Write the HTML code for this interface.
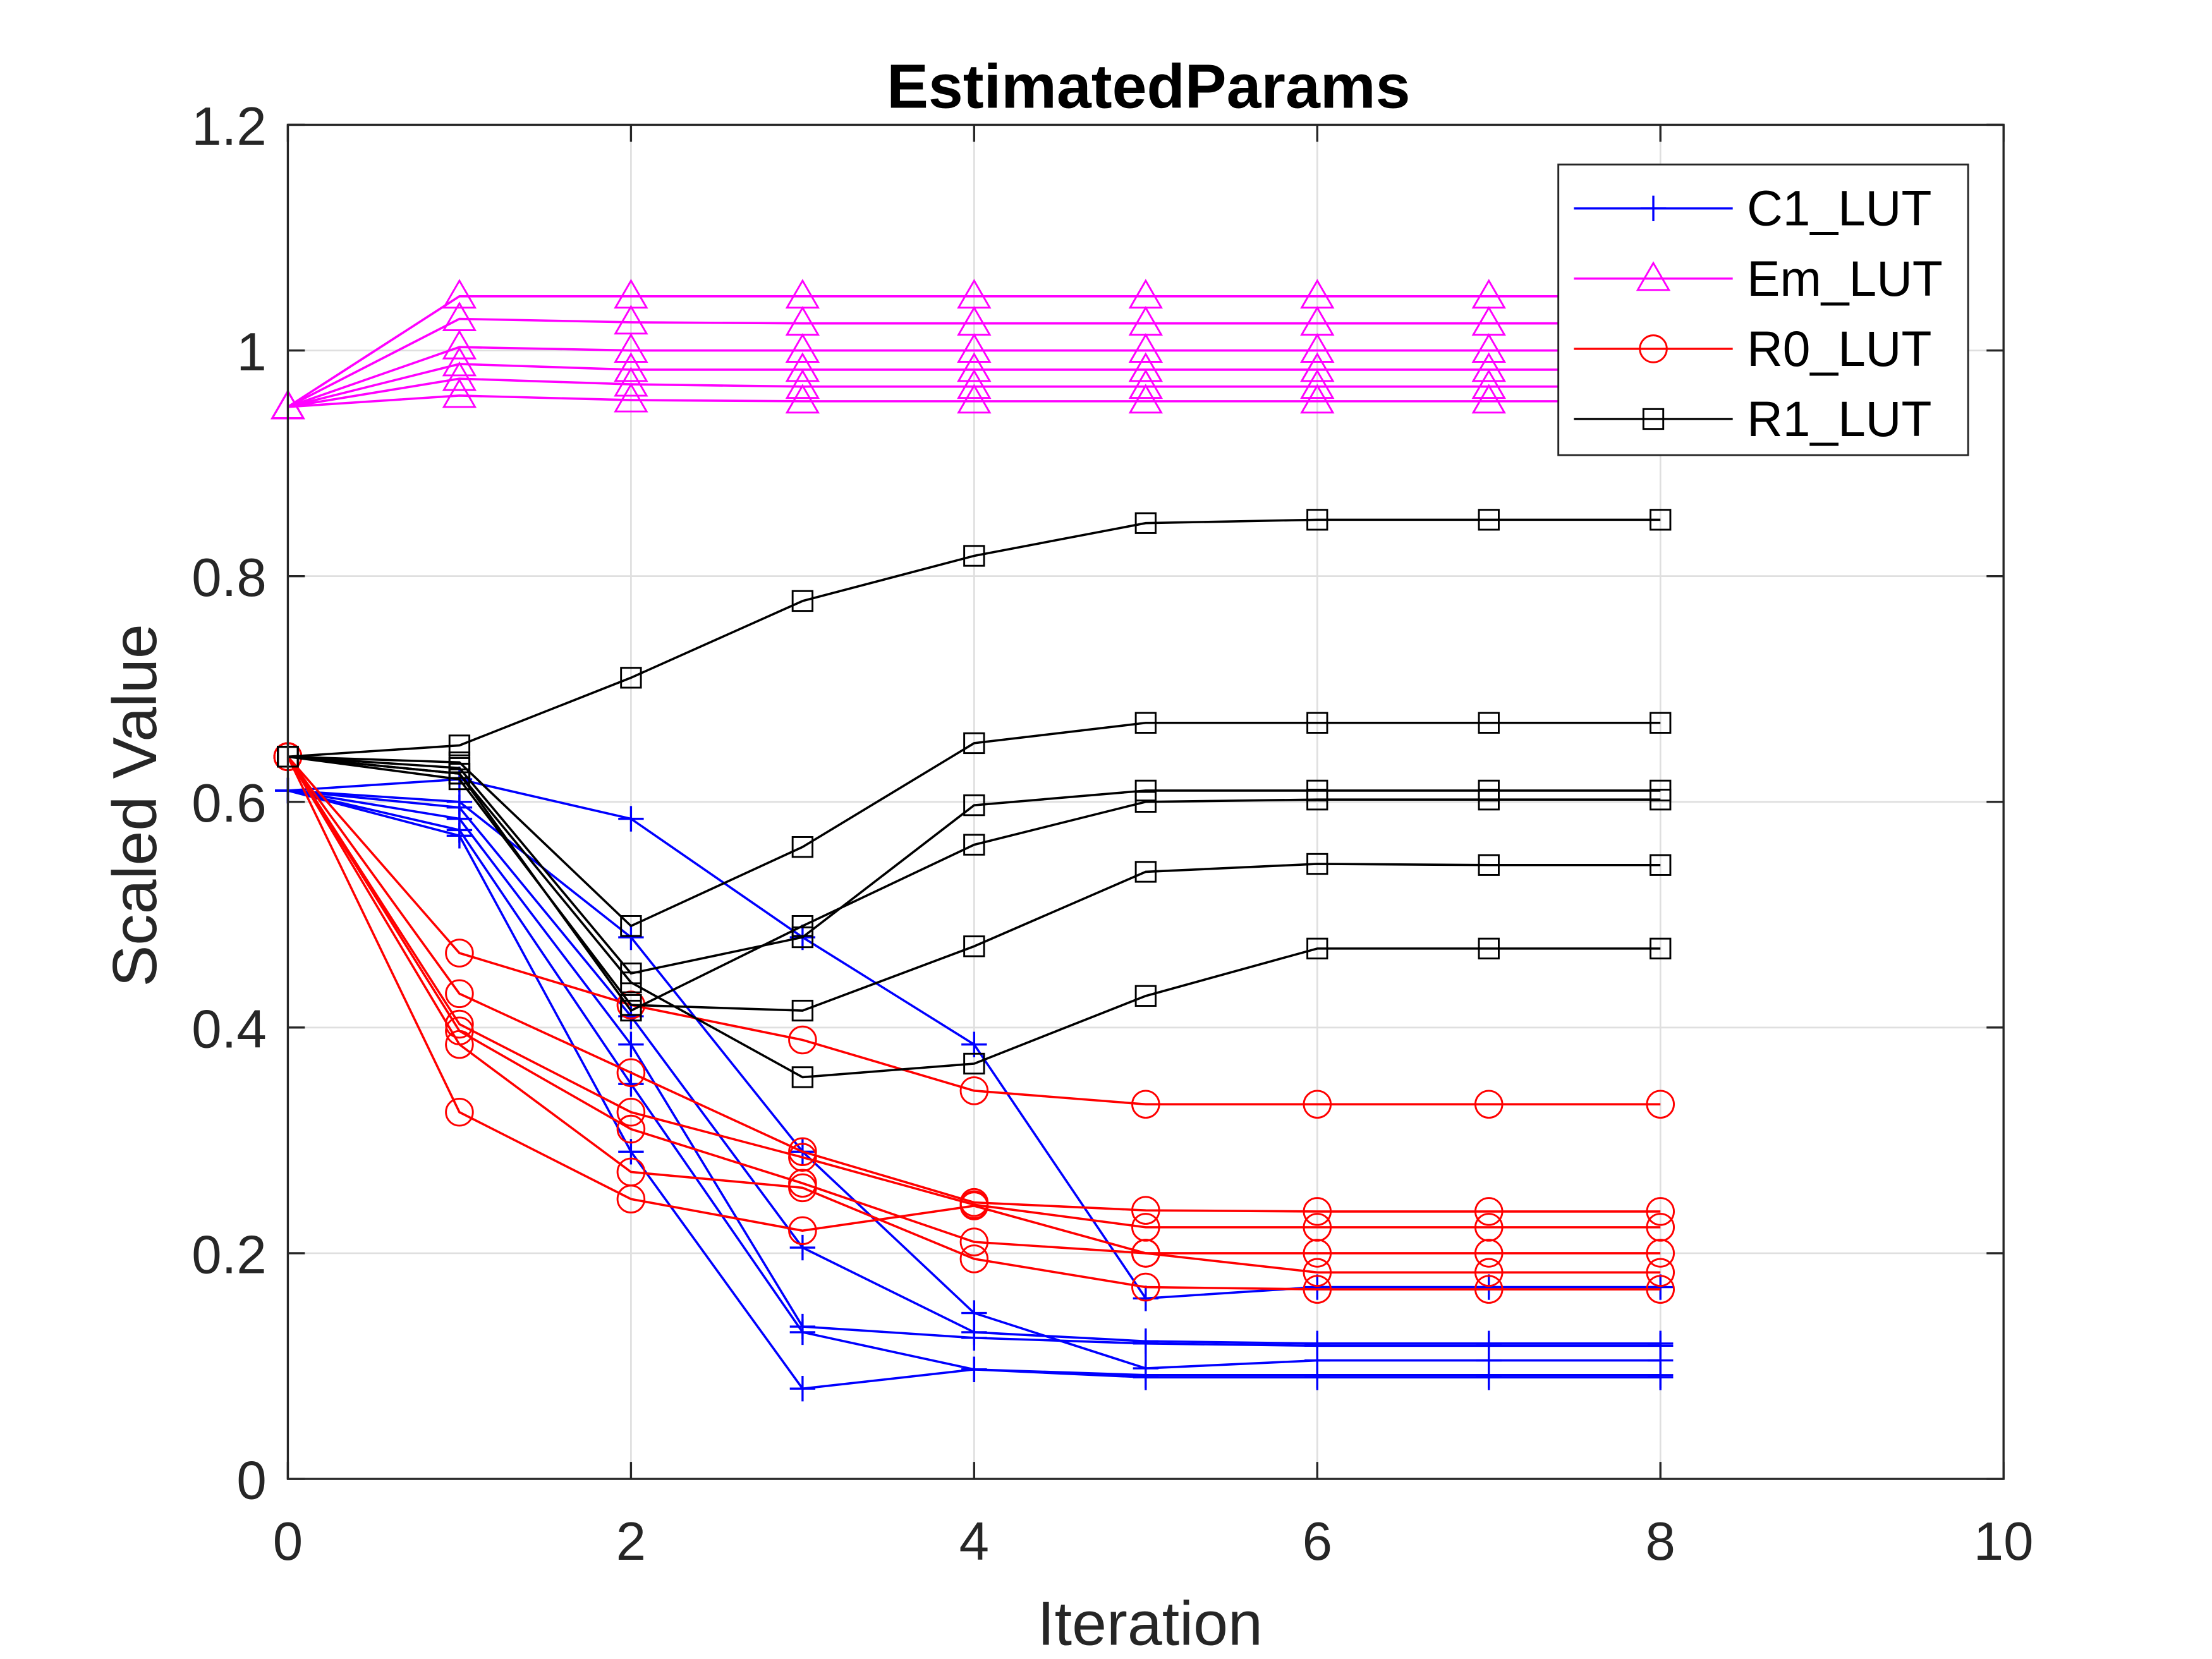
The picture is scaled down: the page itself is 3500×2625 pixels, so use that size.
<!DOCTYPE html>
<html><head><meta charset="utf-8"><style>
html,body{margin:0;padding:0;background:#fff}
svg{display:block}
text{font-family:"Liberation Sans",Arial,sans-serif;fill:#262626}
</style></head><body>
<svg id="chart" width="3500" height="2625" viewBox="0 0 1560 1170" xmlns="http://www.w3.org/2000/svg">
<rect width="1560" height="1170" fill="#fff"/>
<g id="grid"></g>
<g id="series"></g>
<g id="axes"></g>
<text x="810" y="76" font-size="44" font-weight="bold" text-anchor="middle" style="fill:#000">EstimatedParams</text>
<text x="811" y="1160" font-size="44" text-anchor="middle">Iteration</text>
<text transform="translate(110,568) rotate(-90)" font-size="44" text-anchor="middle">Scaled Value</text>
<g id="legend"></g>
</svg>
<script>
const iters=[0,1,2,3,4,5,6,7,8];
const xTicks=[0,2,4,6,8,10];
const yTicks=[0,0.2,0.4,0.6,0.8,1,1.2];
const yTickLabels=["0","0.2","0.4","0.6","0.8","1","1.2"];
const seriesNames=["C1_LUT","Em_LUT","R0_LUT","R1_LUT"];
const c1=[
[0.61,0.62,0.585,0.48,0.385,0.16,0.17,0.17,0.17],
[0.61,0.60,0.48,0.29,0.147,0.098,0.105,0.105,0.105],
[0.61,0.595,0.41,0.205,0.13,0.122,0.12,0.12,0.12],
[0.61,0.585,0.385,0.135,0.125,0.12,0.118,0.118,0.118],
[0.61,0.575,0.35,0.13,0.097,0.09,0.09,0.09,0.09],
[0.61,0.57,0.29,0.08,0.097,0.092,0.092,0.092,0.092]];
const em=[
[0.95,1.048,1.048,1.048,1.048,1.048,1.048,1.048,1.048],
[0.95,1.028,1.025,1.024,1.024,1.024,1.024,1.024,1.024],
[0.95,1.003,1.0,1.0,1.0,1.0,1.0,1.0,1.0],
[0.95,0.988,0.983,0.983,0.983,0.983,0.983,0.983,0.983],
[0.95,0.975,0.97,0.968,0.968,0.968,0.968,0.968,0.968],
[0.95,0.96,0.956,0.955,0.955,0.955,0.955,0.955,0.955]];
const r0=[
[0.64,0.466,0.42,0.389,0.344,0.332,0.332,0.332,0.332],
[0.64,0.43,0.36,0.29,0.245,0.238,0.237,0.237,0.237],
[0.64,0.403,0.325,0.285,0.243,0.223,0.223,0.223,0.223],
[0.64,0.397,0.31,0.262,0.21,0.2,0.2,0.2,0.2],
[0.64,0.385,0.272,0.258,0.195,0.17,0.168,0.168,0.168],
[0.64,0.325,0.248,0.22,0.242,0.2,0.183,0.183,0.183]];
const r1=[
[0.64,0.65,0.71,0.778,0.818,0.847,0.85,0.85,0.85],
[0.64,0.635,0.49,0.56,0.652,0.67,0.67,0.67,0.67],
[0.64,0.63,0.448,0.48,0.597,0.61,0.61,0.61,0.61],
[0.64,0.625,0.415,0.49,0.562,0.6,0.602,0.602,0.602],
[0.64,0.62,0.42,0.415,0.472,0.538,0.545,0.544,0.544],
[0.64,0.625,0.44,0.356,0.368,0.428,0.47,0.47,0.47]];

const NS="http://www.w3.org/2000/svg";
const X0=203,X1=1413,Y0=1043,Y1=88;
const sx=v=>X0+(v-0)/(10-0)*(X1-X0);
const sy=v=>Y0-(v-0)/(1.2-0)*(Y0-Y1);
function mk(tag,attrs,parent){const e=document.createElementNS(NS,tag);for(const k in attrs)e.setAttribute(k,attrs[k]);parent.appendChild(e);return e;}
const grid=document.getElementById('grid'),axes=document.getElementById('axes'),ser=document.getElementById('series'),leg=document.getElementById('legend');
xTicks.forEach(t=>{
  const g=mk('line',{x1:sx(t),x2:sx(t),y1:Y0,y2:Y1,stroke:'#dfdfdf','stroke-width':1.2},grid);
  
  
  mk('line',{x1:sx(t),x2:sx(t),y1:Y0,y2:Y0-12,stroke:'#262626','stroke-width':1.5},axes);
  mk('line',{x1:sx(t),x2:sx(t),y1:Y1,y2:Y1+12,stroke:'#262626','stroke-width':1.5},axes);
  const l=mk('text',{x:sx(t),y:Y0+57,'font-size':38,'text-anchor':'middle'},axes);l.textContent=t;
  
  
});
yTicks.forEach((t,i)=>{
  const g=mk('line',{x1:X0,x2:X1,y1:sy(t),y2:sy(t),stroke:'#dfdfdf','stroke-width':1.2},grid);
  
  
  mk('line',{x1:X0,x2:X0+12,y1:sy(t),y2:sy(t),stroke:'#262626','stroke-width':1.5},axes);
  mk('line',{x1:X1,x2:X1-12,y1:sy(t),y2:sy(t),stroke:'#262626','stroke-width':1.5},axes);
  const l=mk('text',{x:X0-15,y:sy(t)+14,'font-size':38,'text-anchor':'end'},axes);l.textContent=yTickLabels[i];
  
  
});
const box=mk('rect',{x:X0,y:Y1,width:X1-X0,height:Y0-Y1,fill:'none',stroke:'#262626','stroke-width':1.5},axes);



function marker(type,x,y,c,p){
  if(type==='plus'){mk('path',{d:`M${x-9},${y}H${x+9}M${x},${y-9}V${y+9}`,stroke:c,'stroke-width':1.5,fill:'none'},p);}
  else if(type==='tri'){mk('path',{d:`M${x},${y-11}L${x+11},${y+8}L${x-11},${y+8}Z`,stroke:c,'stroke-width':1.3,fill:'none'},p);}
  else if(type==='circ'){mk('circle',{cx:x,cy:y,r:9.5,stroke:c,'stroke-width':1.3,fill:'none'},p);}
  else {mk('rect',{x:x-7,y:y-7,width:14,height:14,stroke:c,'stroke-width':1.3,fill:'none'},p);}
}
const groups=[[c1,'#0000ff','plus','c1'],[em,'#ff00ff','tri','em'],[r0,'#ff0000','circ','r0'],[r1,'#000000','sq','r1']];
groups.forEach(([data,c,m,n])=>{
  data.forEach((s,i)=>{
    const g=mk('g',{},ser);
    
    
    mk('polyline',{points:s.map((v,k)=>sx(iters[k])+','+sy(v)).join(' '),stroke:c,'stroke-width':1.6,fill:'none'},g);
    s.forEach((v,k)=>marker(m,sx(iters[k]),sy(v),c,g));
  });
});
mk('rect',{x:1099,y:116,width:289,height:205,fill:'#fff',stroke:'#262626','stroke-width':1.3},leg);
groups.forEach(([d,c,m,n],i)=>{
  const y=147+i*49.5;
  const g=mk('g',{},leg);
  
  
  mk('line',{x1:1110,x2:1222,y1:y,y2:y,stroke:c,'stroke-width':1.5},g);
  marker(m,1166,y,c,g);
  const t=mk('text',{x:1232,y:y+12,'font-size':35},g);t.style.fill='#000';t.textContent=seriesNames[i];
});
</script>
</body></html>
